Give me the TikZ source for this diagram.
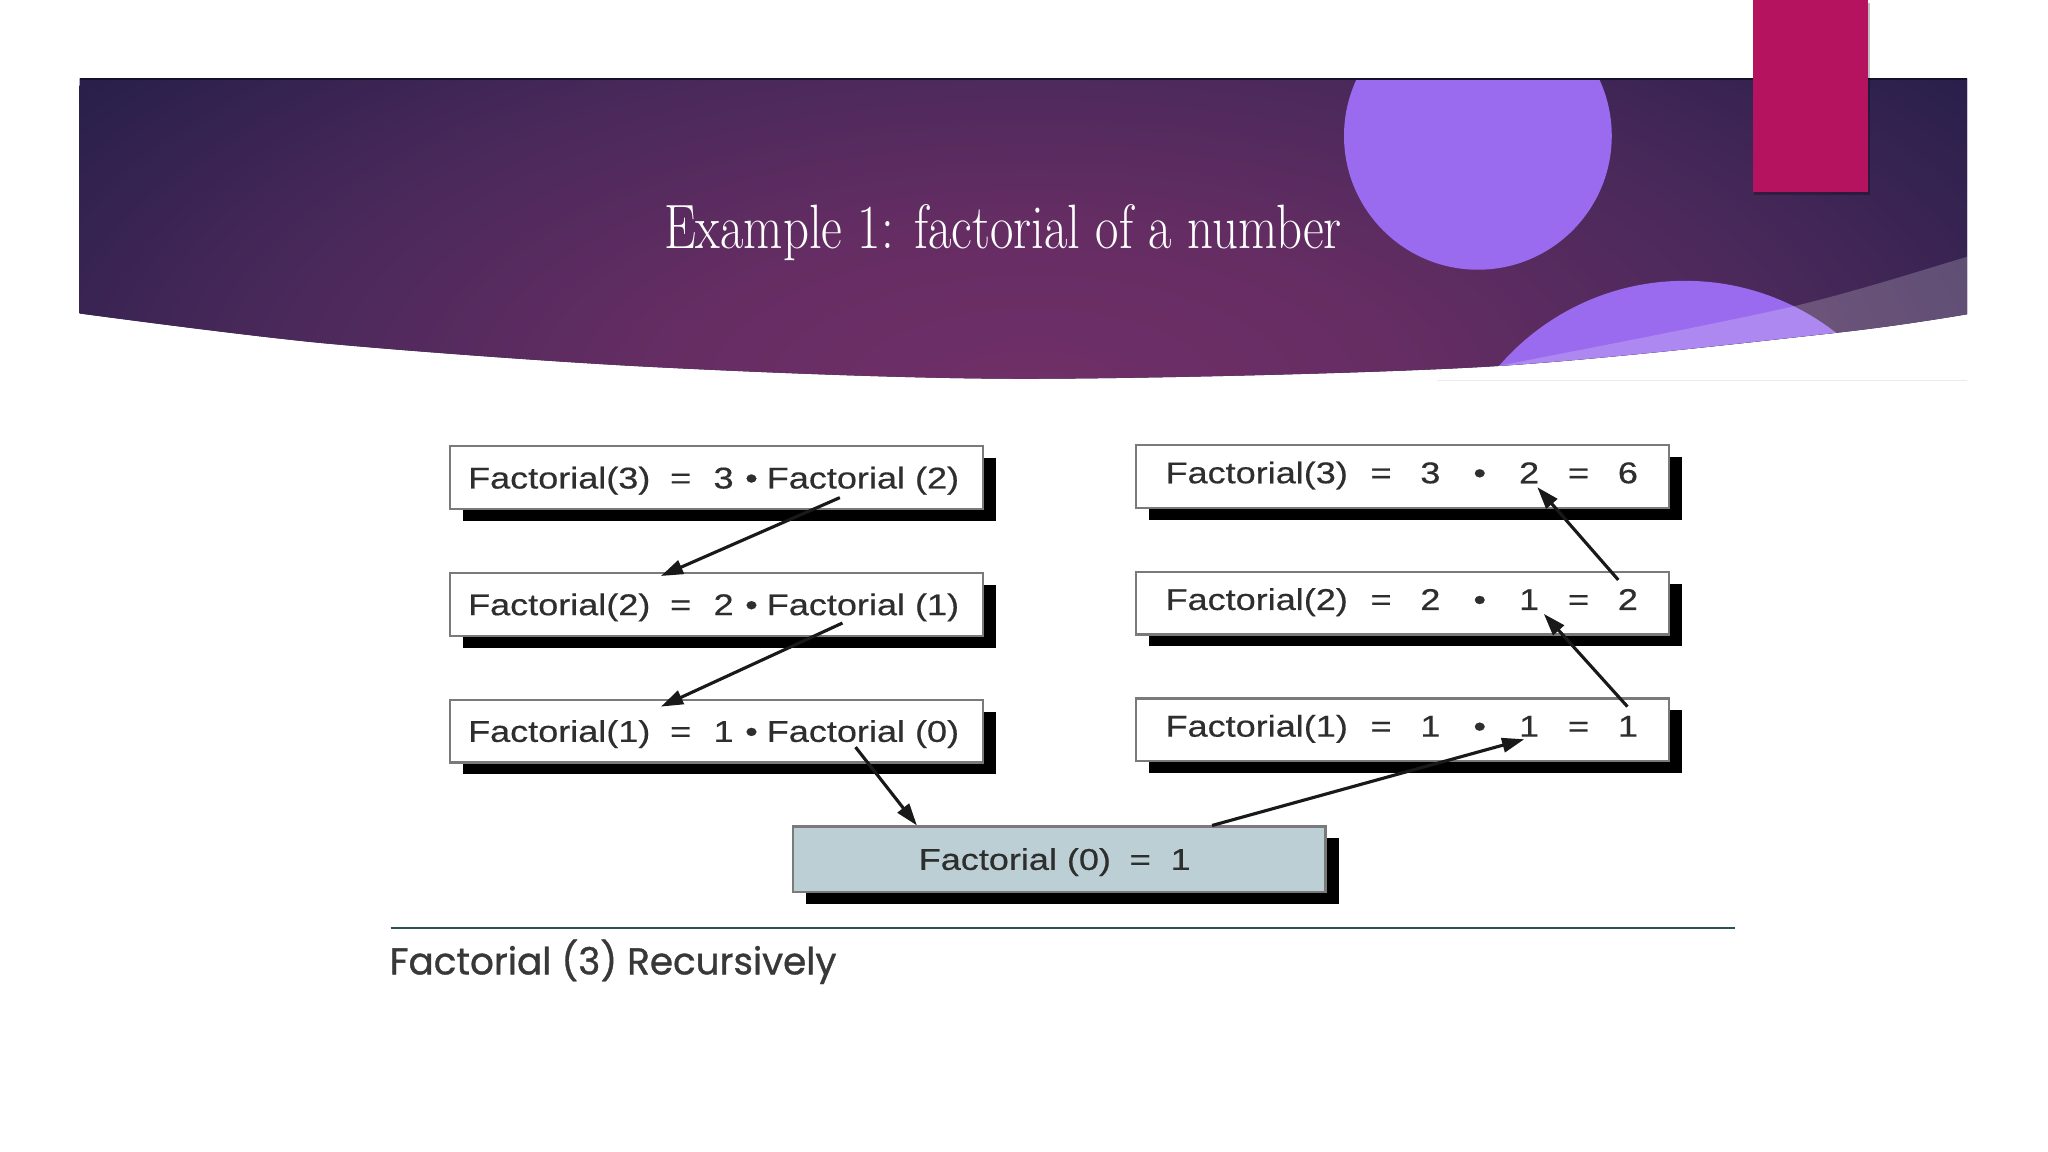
\documentclass[tikz,border=0pt]{standalone}
\usepackage{fontspec}
\usepackage{graphicx}
\usetikzlibrary{arrows.meta,shadows}
\newfontfamily\diagfont{Liberation Sans}[FakeBold=0.4]
\newfontfamily\capfont{Poppins}[FakeBold=0.9]
\definecolor{bandin}{HTML}{702F68}
\definecolor{bandma}{HTML}{652D63}
\definecolor{bandmb}{HTML}{4B295B}
\definecolor{bandout}{HTML}{281F4A}
\definecolor{lav}{HTML}{9A6BEE}
\definecolor{pinkbar}{HTML}{B5135F}
\definecolor{boxline}{HTML}{7A7A7A}
\definecolor{zerofill}{HTML}{BCCFD4}
\definecolor{txt}{HTML}{2E2E2E}
\definecolor{rulecol}{HTML}{2F4E5C}
\pgfdeclareradialshading{bandshade}{\pgfpoint{0bp}{0bp}}{color(0bp)=(bandin); color(8bp)=(bandma); color(16bp)=(bandmb); color(25bp)=(bandout); color(50bp)=(bandout)}
\newcommand\ltxt[3]{\scalebox{1.2}[1]{Factorial(#1)\hspace{0.55em}=\hspace{0.62em}#2\hspace{0.32em}•\hspace{0.25em}Factorial (#3)}}
\newcommand\tk[1]{\makebox[1.37em][c]{#1}}
\newcommand\rtxt[4]{\scalebox{1.2}[1]{Factorial(#1)\hspace{0.235em}\tk{=}\tk{#2}\tk{•}\tk{#3}\tk{=}\tk{#4}}}
\begin{document}
\begin{tikzpicture}[x=0.5pt,y=-0.5pt,
  fbox/.style={draw=boxline, line width=0.8pt, fill=white, minimum width=204pt, minimum height=24pt, inner sep=0pt, anchor=north west,
    drop shadow={shadow xshift=5pt, shadow yshift=-4.5pt, fill=black, opacity=1}},
  zbox/.style={fbox, fill=zerofill, minimum height=25pt},
  lbl/.style={anchor=base west, inner sep=0pt, text=txt, font=\diagfont\fontsize{11.5pt}{13pt}\selectfont},
  conn/.style={line width=1.2pt, draw=black!90, -{Triangle[length=8.5pt,width=5.5pt]}}]
\useasboundingbox (0,0) rectangle (1568,882);
\fill[white] (0,0) rectangle (1568,882);
% header band
\begin{scope}
\clip (61,60) -- (1506,60) -- plot[smooth] coordinates {(1506,240.6) (1404,255) (1134,281) (784,290) (500,281) (250,263) (61,240)} -- cycle;
\fill[bandout] (0,0) rectangle (1568,400);
\shade[shading=bandshade] (790,300) ellipse [x radius=900, y radius=400];
\fill[lav] (1131.5,104) circle [radius=102.5];
\fill[lav] (1290,403) circle [radius=188];
\fill[white, opacity=0.2] plot[smooth] coordinates {(1530,190) (1505,197) (1371,235) (1148,280) (1060,296)} -- (1060,340) -- (1530,340) -- cycle;
\end{scope}
\draw[line width=0.6pt, color=black!45!bandout] (61,60.5) -- (1506,60.5);
\draw[line width=0.5pt, color=black!8] (1100,291.5) -- (1506,291.5);
% pink bar
\fill[black, opacity=0.25] (1343,2) rectangle (1432,149);
\fill[pinkbar] (1342,0) rectangle (1430,147);
% title
\node[anchor=base west, inner sep=0pt, text=white, font=\fontsize{24pt}{28pt}\selectfont] (title) at (508,190) {\resizebox{259.5pt}{\height}{Example 1: factorial of a number}};
% boxes
\node[fbox] (L3) at (344,341) {};
\node[fbox] (L2) at (344,438) {};
\node[fbox] (L1) at (344,535) {};
\node[fbox] (R3) at (869,340) {};
\node[fbox] (R2) at (869,437) {};
\node[fbox] (R1) at (869,534) {};
\node[zbox] (Z) at (606,632) {};
% texts
\node[lbl] (L3t) at (358,374) {\ltxt{3}{3}{2}};
\node[lbl] (L2t) at (358,471) {\ltxt{2}{2}{1}};
\node[lbl] (L1t) at (358,568) {\ltxt{1}{1}{0}};
\node[lbl] (R3t) at (892,370) {\rtxt{3}{3}{2}{6}};
\node[lbl] (R2t) at (892,467) {\rtxt{2}{2}{1}{2}};
\node[lbl] (R1t) at (892,564) {\rtxt{1}{1}{1}{1}};
\node[lbl] (Zt) at (703,666) {\scalebox{1.2}[1]{Factorial (0)\hspace{0.52em}=\hspace{0.55em}1}};
% connectors
\coordinate (a1s) at (643,381); \coordinate (a1e) at (506,441);
\coordinate (a2s) at (645,477); \coordinate (a2e) at (506,541);
\coordinate (a3s) at (655,572); \coordinate (a3e) at (702,632);
\coordinate (a4s) at (928,632); \coordinate (a4e) at (1167,566);
\coordinate (a5s) at (1246,541); \coordinate (a5e) at (1182,470);
\coordinate (a6s) at (1239,444); \coordinate (a6e) at (1177,373);
\draw[conn] (a1s) -- (a1e);
\draw[conn] (a2s) -- (a2e);
\draw[conn] (a3s) -- (a3e);
\draw[conn] (a4s) -- (a4e);
\draw[conn] (a5s) -- (a5e);
\draw[conn] (a6s) -- (a6e);
% rule and caption
\coordinate (rl) at (299,710.5); \coordinate (rr) at (1328,710.5);
\draw[rulecol, line width=1.1pt] (rl) -- (rr);
\node[anchor=base west, inner sep=0pt, text=black!78, font=\capfont\fontsize{14.3pt}{16pt}\selectfont] (cap) at (298,746) {\resizebox{171pt}{\height}{Factorial (3) Recursively}};
\end{tikzpicture}
\end{document}
